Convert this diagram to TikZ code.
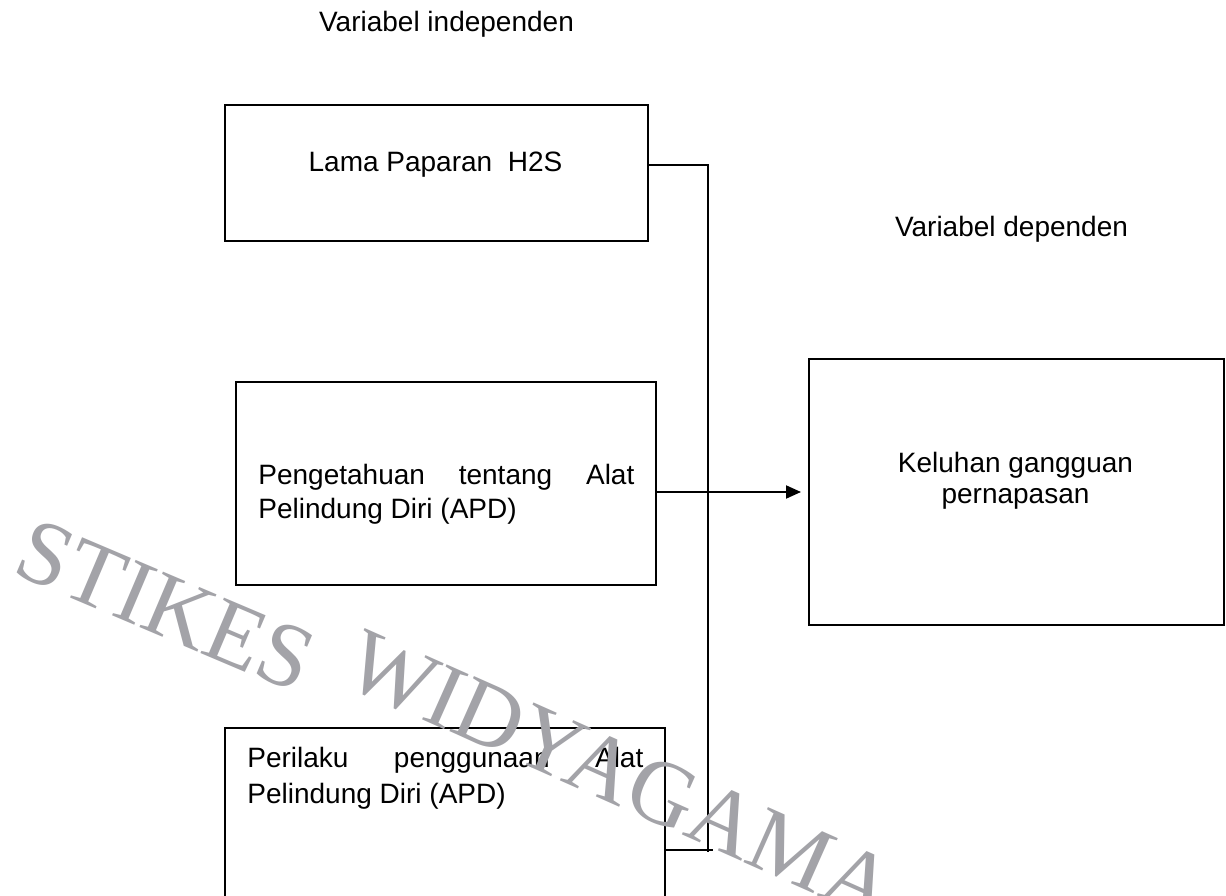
\documentclass[tikz,border=0pt]{standalone}
\usepackage{fontspec}
\setmainfont{Liberation Sans}
\newfontfamily\stampfont{Liberation Serif}
\usetikzlibrary{arrows.meta}
\definecolor{stampgray}{RGB}{163,163,168}
\hyphenpenalty=10000

\begin{document}
\begin{tikzpicture}[x=0.5pt, y=0.5pt,
    every node/.style={inner sep=0pt, font=\fontsize{14}{17}\selectfont},
    box/.style={draw, line width=1pt, rectangle},
    link/.style={line width=0.6pt},
    arrowline/.style={line width=1pt, -{Triangle[length=7.5pt,width=6.5pt]}, shorten >=3.5pt},
    stamp/.style={text=stampgray, font=\stampfont\fontsize{46}{46}\selectfont, anchor=base west}]
    \clip (0,0) rectangle (1226,895);
    \fill[white] (0,0) rectangle (1226,895);

    % Boxes
    \node[box, minimum width=211.5pt, minimum height=68pt] (lama) at (436.5,722) {};
    \node[box, minimum width=210pt, minimum height=101.5pt] (tahu) at (446,411.5) {};
    \node[box, minimum width=220pt, minimum height=136pt] (perilaku) at (445,31) {};
    \node[box, minimum width=207.5pt, minimum height=133pt] (keluhan) at (1016.5,403) {};

    % Texts
    \node[anchor=base] (indep) at (446.5,863) {Variabel independen};
    \node[anchor=base] (dep) at (1011.5,658) {Variabel dependen};
    \node[anchor=base] (lamatxt) at (435.5,723) {Lama Paparan\ \ H2S};
    \node[anchor=north west, text width=188pt, align=justify] (tahutxt) at (258,431)
          {Pengetahuan tentang Alat Pelindung Diri (APD)};
    \node[anchor=north west, text width=198pt, align=justify,
          font=\fontsize{14}{18}\selectfont] (perilakutxt) at (247,148)
          {Perilaku penggunaan Alat Pelindung Diri (APD)};
    \node[anchor=north, align=center, font=\fontsize{14}{15.5}\selectfont] (keluhantxt) at (1015.5,443)
          {Keluhan gangguan\\pernapasan};

    % Connectors
    \coordinate (jtop) at (708,730);
    \coordinate (jbot) at (708,43);
    \coordinate (jend) at (713,45);
    \draw[link] (lama.east |- jtop) -- (jtop) -- (jbot);
    \draw[link] (perilaku.east |- jend) -- (jend);
    \draw[arrowline] (tahu.east |- keluhan.west) -- (keluhan.west);

    % Watermark
    \node[stamp, rotate=-23] (wm1) at (10,323) {STIKES};
    \node[stamp, rotate=-24] (wm2) at (340,212) {WIDYAGAMA};
\end{tikzpicture}
\end{document}
